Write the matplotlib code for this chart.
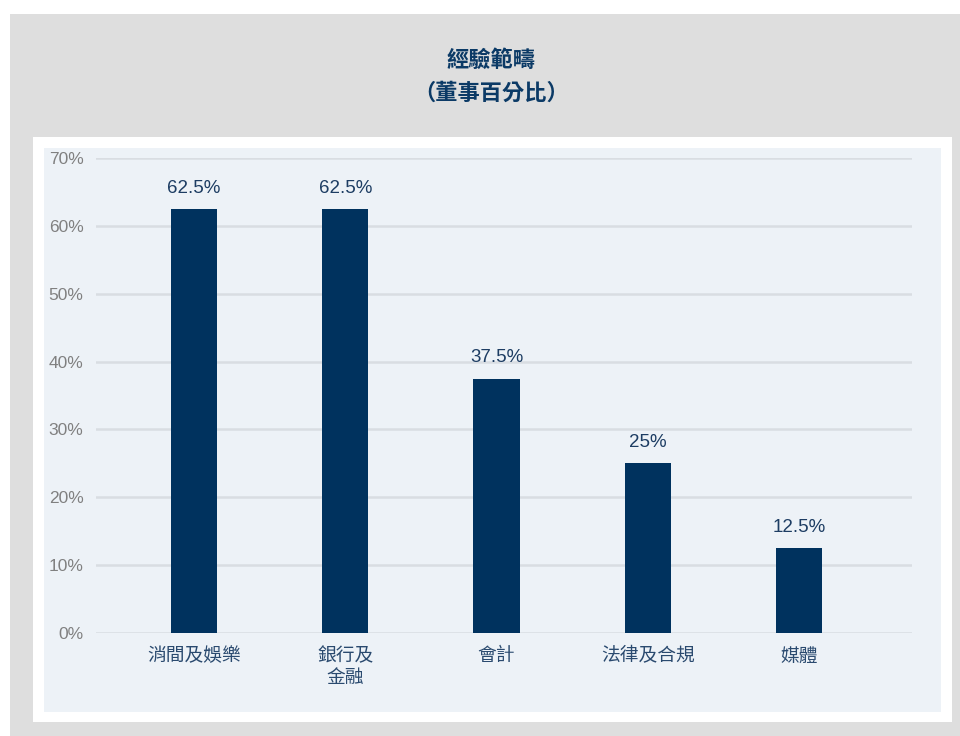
import matplotlib.pyplot as plt
from matplotlib.patches import Rectangle

# 經驗範疇數據
categories = ["消間及娛樂", "銀行及\n金融", "會計", "法律及合規", "媒體"]
values = [62.5, 62.5, 37.5, 25, 12.5]
value_labels = ["62.5%", "62.5%", "37.5%", "25%", "12.5%"]
yticks = [0, 10, 20, 30, 40, 50, 60, 70]

W, H = 960, 736
NAVY = "#00325e"
CJK = ["Noto Sans CJK TC", "DejaVu Sans"]
LATIN = ["Liberation Sans", "DejaVu Sans"]

fig = plt.figure(figsize=(W / 100, H / 100), dpi=100)
fig.patch.set_facecolor("white")


def px_rect(x0, y0, x1, y1, color):
    # 以像素座標(左上原點)畫背景方塊
    fig.patches.append(Rectangle((x0 / W, 1 - y1 / H), (x1 - x0) / W, (y1 - y0) / H,
                                 transform=fig.transFigure, facecolor=color,
                                 edgecolor="none", zorder=-5))


px_rect(10, 14, 960, 736, "#dedede")
px_rect(33, 137, 952, 722, "white")
px_rect(44, 148, 941, 712, "#edf2f7")

# 標題
fig.text(491 / W, 1 - 60 / H, "經驗範疇", ha="center", va="center",
         fontsize=16, fontweight="heavy", color="#0b3a66", family=CJK)
fig.text(491 / W, 1 - 93 / H, "（董事百分比）", ha="center", va="center",
         fontsize=16, fontweight="heavy", color="#0b3a66", family=CJK)

ax = fig.add_axes([96 / W, (H - 633) / H, 816 / W, 475 / H])
ax.set_facecolor("none")
ax.set_zorder(2)

x = list(range(len(categories)))
ax.bar(x, values, width=0.305, color=NAVY, zorder=3)

for xi, v, lab in zip(x, values, value_labels):
    ax.annotate(lab, (xi, v), xytext=(0, 15), textcoords="offset points",
                ha="center", va="center", fontsize=13.5, color="#1d3d63",
                family=LATIN)

ax.set_ylim(0, 70)
ax.set_xlim(-0.648, 4.747)
ax.set_yticks(yticks)
ax.set_yticklabels([f"{t}%" for t in yticks], family=LATIN, fontsize=12.5,
                   color="#808080")
ax.set_xticks(x)
ax.set_xticklabels(categories, family=CJK, fontsize=13.5, color="#2a4a6f",
                   linespacing=1.0, va="top")
ax.tick_params(axis="both", length=0)
ax.tick_params(axis="y", pad=9)
ax.tick_params(axis="x", pad=9)

ax.grid(axis="y", color="#d9dde2", linewidth=1.8, zorder=1)
ax.set_axisbelow(True)
for s in ax.spines.values():
    s.set_visible(False)

fig.savefig("out.png", dpi=100)
